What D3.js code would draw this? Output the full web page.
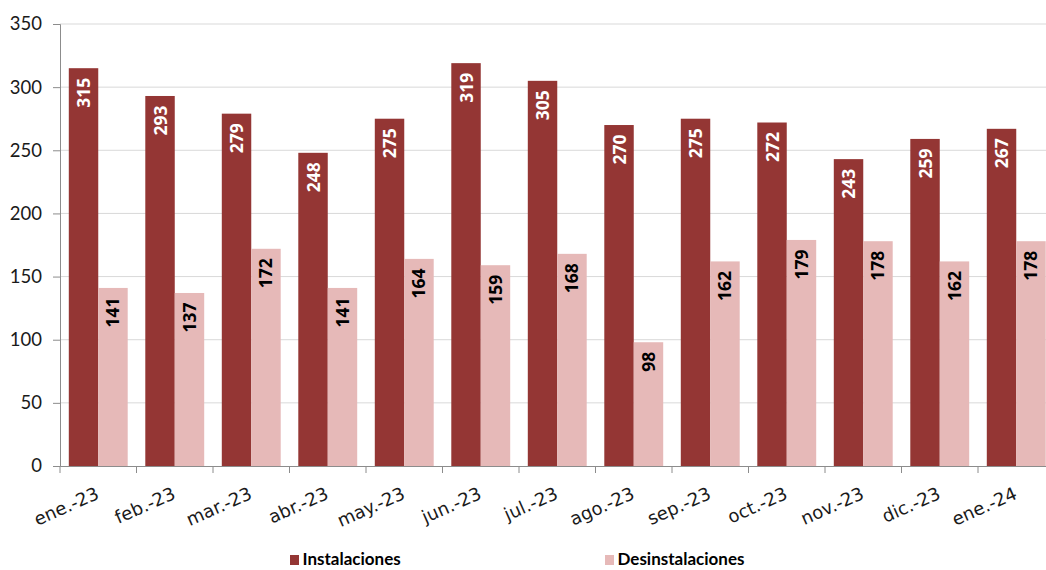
<!DOCTYPE html>
<html><head><meta charset="utf-8">
<script src="https://cdn.jsdelivr.net/npm/d3@7"></script>
<style>body{margin:0;background:#fff}svg{display:block}</style>
</head><body>
<svg id="c" width="1046" height="570"></svg>
<script>
const categories = ["ene.-23","feb.-23","mar.-23","abr.-23","may.-23","jun.-23","jul.-23","ago.-23","sep.-23","oct.-23","nov.-23","dic.-23","ene.-24"];
const instalaciones = [315,293,279,248,275,319,305,270,275,272,243,259,267];
const desinstalaciones = [141,137,172,141,164,159,168,98,162,179,178,162,178];
const yTicks = [0,50,100,150,200,250,300,350];
const seriesNames = ["Instalaciones","Desinstalaciones"];
const colors = ["#943634","#E6B9B8"];
const font = "'Lato','Open Sans',sans-serif";
const xFont = "'DejaVu Sans',sans-serif";
const valFont = "'Open Sans','Lato',sans-serif";

(function(){
const svg = d3.select("#c");
const pL = 60, pR = 1054.5, pT = 24, pB = 466;
const x = d3.scaleBand().domain(categories).range([pL, pR]).paddingInner(0.23).paddingOuter(0.115);
const x0 = d3.scaleBand().domain(categories).range([pL, pR]);
const xs = d3.scaleBand().domain(seriesNames).range([0, x.bandwidth()]);
const y = d3.scaleLinear().domain([0,350]).range([pB, pT]);

svg.append("g").selectAll("line").data(yTicks.filter(d=>d>0)).join("line")
  .attr("x1", pL).attr("x2", 1046).attr("y1", d=>y(d)).attr("y2", d=>y(d))
  .attr("stroke", "#d9d9d9").attr("stroke-width", 1);

const ya = svg.append("g").attr("transform", `translate(${pL},0)`)
  .call(d3.axisLeft(y).tickValues(yTicks).tickSize(7).tickPadding(11));
ya.select(".domain").attr("stroke","#8c8c8c");
ya.selectAll(".tick line").attr("stroke","#8c8c8c");
ya.selectAll("text").attr("font-family", font).attr("font-size", 18.5).attr("fill","#1a1a1a");

const data = categories.map((c,i)=>({c, vals:[instalaciones[i], desinstalaciones[i]]}));
const groups = svg.append("g").selectAll("g").data(data).join("g")
  .attr("transform", d=>`translate(${x(d.c)},0)`);
groups.selectAll("rect").data(d=>d.vals.map((v,j)=>({v,j}))).join("rect")
  .attr("x", d=>xs(seriesNames[d.j])).attr("width", xs.bandwidth())
  .attr("y", d=>y(d.v)).attr("height", d=>pB - y(d.v))
  .attr("fill", d=>colors[d.j]);
groups.selectAll("text").data(d=>d.vals.map((v,j)=>({v,j}))).join("text")
  .attr("transform", d=>`translate(${xs(seriesNames[d.j]) + xs.bandwidth()/2 + 6.5},${y(d.v)+9.5}) rotate(-90)`)
  .attr("text-anchor","end")
  .attr("font-family", valFont).attr("font-weight","bold").attr("font-size", 17.5)
  .attr("fill", d=>d.j===0 ? "#ffffff" : "#000000")
  .text(d=>d.v);

const xa = svg.append("g").attr("transform", `translate(0,${pB})`)
  .call(d3.axisBottom(x0).tickSize(0).tickFormat(""));
xa.select(".domain").attr("stroke","#8c8c8c");
svg.append("g").selectAll("line").data(d3.range(categories.length+1)).join("line")
  .attr("x1", i=>pL + i*x0.step()).attr("x2", i=>pL + i*x0.step())
  .attr("y1", pB).attr("y2", pB+7).attr("stroke","#8c8c8c");
svg.append("g").selectAll("text").data(categories).join("text")
  .attr("transform", d=>`translate(${x0(d)+x0.bandwidth()/2+2},${pB+32}) rotate(-24)`)
  .attr("text-anchor","end")
  .attr("font-family", xFont).attr("font-size", 18).attr("fill","#1a1a1a")
  .text(d=>d);

const legX = [290, 605];
const leg = svg.append("g").selectAll("g").data(seriesNames).join("g")
  .attr("transform",(d,i)=>`translate(${legX[i]},565)`);
leg.append("rect").attr("x",0).attr("y",-10).attr("width",9).attr("height",10).attr("fill",(d,i)=>colors[i]);
leg.append("text").attr("x",12.5).attr("y",0)
  .attr("font-family", font).attr("font-weight","bold").attr("font-size",17).attr("fill","#000")
  .text(d=>d);
})();
</script>
</body></html>
